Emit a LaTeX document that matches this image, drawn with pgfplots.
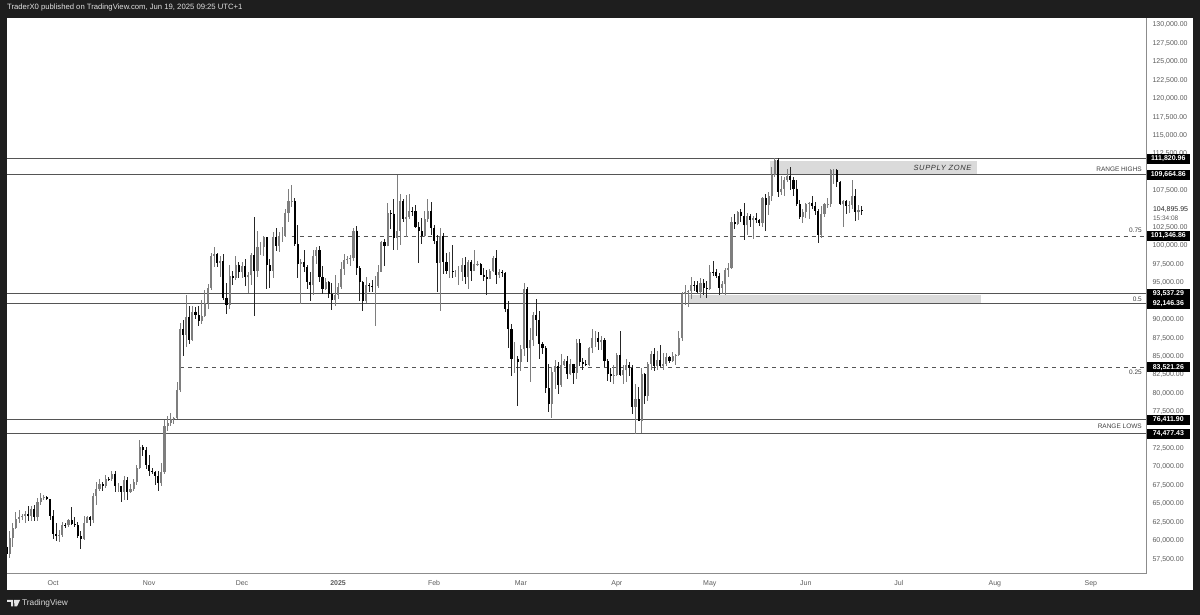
\documentclass[border=0pt]{standalone}
\usepackage{fontspec}
\setmainfont{Liberation Sans}
\newfontfamily\spaced[LetterSpace=9]{Liberation Sans}
\usepackage{pgfplots}
\usepackage{pgfplotstable}
\pgfplotsset{compat=1.18}
\definecolor{frame}{HTML}{1E1E1E}
\definecolor{upc}{HTML}{7E7E7E}
\definecolor{lvl}{HTML}{555555}
\definecolor{zone}{HTML}{DADADA}
\definecolor{tick}{HTML}{5C5C5C}
\pgfplotstableread{
o h l c
59200 59200 57500 58200
58200 61300 57600 60300
60300 62400 59200 61650
61650 63850 61600 62950
62950 64100 62350 63200
63200 63550 62750 63350
63350 64000 62400 63580
63580 64700 62700 63330
63330 64650 62700 64260
64260 64800 62700 63150
63150 65800 62700 65180
65180 66500 64800 65800
65800 66250 65450 65880
65880 66050 65450 65600
65600 65600 62850 63330
63330 64100 60200 60830
60830 62400 60000 60650
60650 61450 59850 60750
60750 62500 60500 62080
62080 62350 61700 62060
62060 63000 61800 62820
62820 64500 62150 62230
62230 63200 61900 62130
62130 62500 60300 60580
60580 61300 58900 60270
60270 63400 60100 62450
62450 63400 62450 63200
63200 63300 62050 62850
62850 66500 62450 66050
66050 67900 64800 67040
67040 68400 66750 67620
67620 67900 66700 67420
67420 68950 67200 68380
68380 68650 68100 68360
68360 69400 68100 69000
69000 69500 66600 67360
67360 67800 66600 67360
67360 67450 65250 66650
66650 68800 65550 68170
68170 68700 65500 66640
66640 67700 66500 67030
67030 68300 66800 68000
68000 70250 67550 69900
69900 73600 69700 72720
72720 72950 71450 72340
72340 72650 69700 70290
70290 71600 68800 69500
69500 69900 69050 69300
69300 69400 67500 68740
68740 69500 66800 67800
67800 70500 67450 69360
69360 76400 69100 75600
75600 76950 74900 75900
75900 77300 75500 76500
76500 76800 75800 76700
76700 81500 76500 80400
80400 89500 80200 88700
88700 89900 85100 87950
87950 93400 86300 90400
90400 91800 86700 87250
87250 91800 87100 91070
91070 91700 90100 90600
90600 91800 89200 89850
89850 92600 89400 90450
90450 94000 90400 92300
92300 94900 91500 94300
94300 99000 94000 98700
98700 99800 97200 98970
98970 99000 97200 97700
97700 98600 95800 97900
97900 98900 92600 93000
93000 94950 90800 91950
91950 97400 91500 95950
95950 96650 94700 95630
95630 98700 95400 97460
97460 97800 95700 96400
96400 97800 95700 97270
97270 98200 94500 95850
95850 96500 93600 96000
96000 99000 94700 98770
98770 103900 90500 96600
96600 102000 95800 99900
99900 100500 98800 99900
99900 101350 98700 101170
101170 101200 94200 97400
97400 98200 94300 96600
96600 101900 95700 101150
101150 102500 99300 100050
100050 101900 99200 101400
101400 102600 100600 101400
101400 105000 101250 104450
104450 107800 103300 106100
106100 108300 105350 106150
106150 106500 100000 100200
100200 102800 95700 97500
97500 98200 92100 97800
97800 99500 96400 97200
97200 97400 94200 95100
95100 96400 92500 94700
94700 99500 93400 98700
98700 99900 97600 99400
99400 99950 95100 95800
95800 97300 93500 94200
94200 95600 94000 95150
95150 95200 93000 93500
93500 95000 91300 92650
92650 96100 91900 93400
93400 95000 92800 94400
94400 97800 94200 96900
96900 98900 96100 98100
98100 98700 97500 98200
98200 98800 97300 98300
98300 102500 97900 102100
102100 102700 96100 96950
96950 97300 92500 95050
95050 95300 91200 92500
92500 95800 92200 94700
94700 95000 93800 94550
94550 95400 93700 94500
94500 95900 89200 94500
94500 97350 94300 96500
96500 100700 96500 100500
100500 100900 97300 99950
99950 105900 99950 104500
104500 104900 102300 104400
104400 106400 99500 101100
101100 109700 99400 102000
102000 107100 100100 106100
106100 106400 103300 103650
103650 106900 101200 103900
103900 107100 103700 104800
104800 105300 104100 104750
104750 105500 102500 102600
102600 103200 97700 102000
102000 103800 100300 101300
101300 104800 101250 103700
103700 106400 103300 104700
104700 106000 101500 102400
102400 102800 100300 100650
100650 101500 93700 97700
97700 102500 91200 101400
101400 101700 96150 97800
97800 99100 96150 96600
96600 99200 95700 96600
96600 100100 95700 96500
96500 96800 95800 96500
96500 97300 94700 96500
96500 98300 95300 97400
97400 98500 94900 95800
95800 98100 94100 97800
97800 98100 95200 96600
96600 99400 96600 97500
97500 97950 97250 97550
97550 97700 96000 96100
96100 97000 95300 95800
95800 96700 93400 95500
95500 96900 95500 96600
96600 98700 96500 98300
98300 99500 94900 96100
96100 96900 95700 96500
96500 96700 95800 96300
96300 96500 91000 91400
91400 92500 86100 88700
88700 89400 82300 84700
84700 87000 82800 84700
84700 85100 78300 84300
84300 86500 83000 86000
86000 95000 85000 94200
94200 94400 84200 86100
86100 88900 81500 87200
87200 91000 86400 90600
90600 92800 87800 89900
89900 91200 84700 86700
86700 86900 85300 86100
86100 86400 80100 80700
80700 84000 77500 78500
78500 83600 76600 82900
82900 84500 80600 83700
83700 84300 79900 81100
81100 85300 80800 83900
83900 84700 83700 84350
84350 85000 81900 82600
82600 84700 82500 84000
84000 84000 81200 82700
82700 87400 82000 86800
86800 87400 83700 84200
84200 84800 83200 84000
84000 84500 83700 83800
83800 86300 83700 86100
86100 88700 85500 87500
87500 88500 86300 87500
87500 88300 85900 86900
86900 87800 85900 87200
87200 87500 83600 84350
84350 84600 81700 82650
82650 83500 81600 82400
82400 83900 81300 82550
82550 85500 82400 85150
85150 88500 82300 82500
82500 83900 81200 83100
83100 84700 81600 83850
83850 84200 82400 83500
83500 83800 77200 78200
78200 81200 74500 79200
79200 80800 76200 76300
76300 83500 74600 82600
82600 82700 78500 79600
79600 84200 78900 84000
84000 85800 83100 85300
85300 86100 83000 83700
83700 85800 83200 84500
84500 86500 83600 83700
83700 85500 83100 84000
84000 85500 83700 84900
84900 85100 84100 84450
84450 85600 84400 85100
85100 85300 83900 85200
85200 88500 85100 87500
87500 93800 87100 93500
93500 94700 92000 93700
93700 94000 91700 93950
93950 95800 92800 94700
94700 95300 93900 94650
94650 95300 93600 93750
93750 95600 92900 95000
95000 95500 93300 94250
94250 95200 92900 94200
94200 97400 94100 96500
96500 97900 95900 96400
96400 96900 95700 95900
95900 96300 93400 94300
94300 95200 93500 94800
94800 97000 93400 96800
96800 97700 95800 97000
97000 104000 96900 103200
103200 104300 102300 102950
102950 104800 102800 104650
104650 105000 103200 104100
104100 105800 100800 102800
102800 104500 101500 104100
104100 104300 102600 103500
103500 104100 101000 103750
103750 104500 103100 103500
103500 103700 102700 103150
103150 106600 102600 106500
106500 107000 102000 105600
105600 107300 104200 106800
106800 110700 106100 109650
109650 112000 109300 111700
111700 112000 106700 107300
107300 109500 106900 107800
107800 109300 106800 108950
108950 110400 108700 109450
109450 110700 107600 108950
108950 109300 106800 107800
107800 108900 105400 105650
105650 106300 103700 103950
103950 105000 103100 104600
104600 105900 103800 105700
105700 106000 103700 105900
105900 106800 105000 105450
105450 106000 104200 104750
104750 105000 100400 101550
101550 105400 101100 104400
104400 105900 103900 105650
105650 106500 105100 105700
105700 110500 105300 110250
110250 110400 108400 110250
110250 110400 108000 108650
108650 108800 105600 105650
105650 106200 102600 106100
106100 106200 104400 105450
105450 106100 104500 105600
105600 108900 105000 106800
106800 107700 103400 104550
104550 105500 103500 104900
104900 105400 104200 104896
}\ohlc
\newcommand{\ptag}[2]{\node[fill=black,text=white,font=\bfseries\fontsize{7}{8}\selectfont,minimum width=43pt,minimum height=10pt,inner sep=0pt] at (axis cs:360,#1) {#2};}
\pgfplotsset{common/.style={
  scale only axis,width=1139pt,height=556pt,
  xmin=-14.85,xmax=352.8,ymin=55468,ymax=130950}}
\begin{document}
\begin{tikzpicture}
\path[use as bounding box,fill=frame] (0pt,0pt) rectangle (1200pt,615pt);
\fill[white] (7pt,25pt) rectangle (1193pt,597pt);
\begin{axis}[common,at={(7pt,41pt)},anchor=south west,
  axis y line*=right,axis x line*=bottom,
  axis line style={color=black!45,line width=1pt,-},
  major tick length=0pt,
  xtick={0,31,61,92,123,151,182,212,243,273,304,335},
  xticklabels={Oct,Nov,Dec,\textbf{2025},Feb,Mar,Apr,May,Jun,Jul,Aug,Sep},
  xticklabel style={font=\fontsize{7}{8}\selectfont,text=tick,yshift=-3pt},
  ytick={57500,60000,62500,65000,67500,70000,72500,77500,80000,82500,85000,87500,90000,95000,97500,100000,102500,105000,107500,112500,115000,117500,120000,122500,125000,127500,130000},
  scaled y ticks=false,
  yticklabel style={font=\fontsize{7}{8}\selectfont,text=tick,anchor=west,xshift=3pt,
    /pgf/number format/.cd,fixed,fixed zerofill,precision=2,1000 sep={,},assume math mode=true},
  error bars/error mark=none,
]
\addplot[fill=zone,draw=none] coordinates {(231.4,111500)(298.2,111500)(298.2,109700)(231.4,109700)} --cycle;
\addplot[fill=zone,draw=none] coordinates {(205,93400)(299.5,93400)(299.5,92300)(205,92300)} --cycle;
\addplot[lvl,line width=1pt] coordinates {(-14.85,111820.96)(352.8,111820.96)};
\addplot[lvl,line width=1pt] coordinates {(-14.85,109664.86)(352.8,109664.86)};
\addplot[lvl,line width=.8pt,dash pattern=on 4pt off 4pt] coordinates {(77,101346.86)(352.8,101346.86)};
\addplot[lvl,line width=1pt] coordinates {(-14.85,93537.29)(352.8,93537.29)};
\addplot[lvl,line width=1pt] coordinates {(-14.85,92146.36)(352.8,92146.36)};
\addplot[lvl,line width=.8pt,dash pattern=on 4pt off 4pt] coordinates {(41,83521.26)(352.8,83521.26)};
\addplot[lvl,line width=1pt] coordinates {(-14.85,76411.90)(352.8,76411.90)};
\addplot[lvl,line width=1pt] coordinates {(-14.85,74477.43)(352.8,74477.43)};
% wicks
\addplot[draw=none,mark=none,forget plot,error bars/.cd,y dir=both,y explicit,error bar style={upc,line width=.8pt}]
 table[x expr=\coordindex-15,y=o,
  y error plus expr={\thisrow{c}>=\thisrow{o}?\thisrow{h}-\thisrow{o}:0},
  y error minus expr={\thisrow{c}>=\thisrow{o}?\thisrow{o}-\thisrow{l}:0}] {\ohlc};
\addplot[draw=none,mark=none,forget plot,error bars/.cd,y dir=both,y explicit,error bar style={black!85,line width=.8pt}]
 table[x expr=\coordindex-15,y=o,
  y error plus expr={\thisrow{c}<\thisrow{o}?\thisrow{h}-\thisrow{o}:0},
  y error minus expr={\thisrow{c}<\thisrow{o}?\thisrow{o}-\thisrow{l}:0}] {\ohlc};
% bodies
\addplot[draw=none,mark=none,forget plot,error bars/.cd,y dir=plus,y explicit,error bar style={upc,line width=2.1pt}]
 table[x expr=\coordindex-15,y=o,
  y error plus expr={\thisrow{c}>=\thisrow{o}?\thisrow{c}-\thisrow{o}:0}] {\ohlc};
\addplot[draw=none,mark=none,forget plot,error bars/.cd,y dir=minus,y explicit,error bar style={black,line width=2.1pt}]
 table[x expr=\coordindex-15,y=o,
  y error minus expr={\thisrow{c}<\thisrow{o}?\thisrow{o}-\thisrow{c}:0}] {\ohlc};
\end{axis}
\begin{axis}[common,at={(7pt,41pt)},anchor=south west,hide axis,clip=false]
\addplot[draw=none,forget plot] coordinates {(0,60000)};
\ptag{111820.96}{111,820.96}
\ptag{109664.86}{109,664.86}
\ptag{101346.86}{101,346.86}
\ptag{93537.29}{93,537.29}
\ptag{92146.36}{92,146.36}
\ptag{83521.26}{83,521.26}
\ptag{76411.90}{76,411.90}
\ptag{74477.43}{74,477.43}
\fill[white] (axis cs:355,106100) rectangle (axis cs:366,103000);
\node[font=\fontsize{7}{8}\selectfont,text=black!85,anchor=west,inner sep=0pt] at (axis cs:355,105000) {104,895.95};
\node[font=\fontsize{6.5}{7}\selectfont,text=tick,anchor=west,inner sep=0pt] at (axis cs:355,103800) {15:34:08};
\node[font=\spaced\itshape\fontsize{7.5}{8}\selectfont,text=black!80,anchor=east,inner sep=0pt] at (axis cs:296.5,110600) {SUPPLY ZONE};
\node[font=\fontsize{6.5}{8}\selectfont,text=black!75,anchor=east,inner sep=0pt] at (axis cs:351.5,110450) {RANGE HIGHS};
\node[font=\fontsize{6.5}{8}\selectfont,text=black!75,anchor=east,inner sep=0pt] at (axis cs:351.5,102200) {0.75};
\node[font=\fontsize{6.5}{8}\selectfont,text=black!75,anchor=east,inner sep=0pt] at (axis cs:351.5,92700) {0.5};
\node[font=\fontsize{6.5}{8}\selectfont,text=black!75,anchor=east,inner sep=0pt] at (axis cs:351.5,82900) {0.25};
\node[font=\fontsize{6.5}{8}\selectfont,text=black!75,anchor=east,inner sep=0pt] at (axis cs:351.5,75550) {RANGE LOWS};
\end{axis}
\node[font=\fontsize{7.7}{9}\selectfont,text=white!88!black,anchor=west,inner sep=0pt] at (7pt,607pt) {TraderX0 published on TradingView.com, Jun 19, 2025 09:25 UTC+1};
\fill[white!90!black] (7pt,15pt) -- (13pt,15pt) -- (13pt,8.5pt) -- (11pt,8.5pt) -- (11pt,13pt) -- (7pt,13pt) -- cycle;
\fill[white!90!black] (14pt,15pt) -- (20pt,15pt) -- (17pt,8.5pt) -- (14.5pt,8.5pt) -- cycle;
\node[font=\fontsize{8.3}{10}\selectfont,text=white!85!black,anchor=west,inner sep=0pt] at (22pt,12pt) {TradingView};
\end{tikzpicture}
\end{document}
